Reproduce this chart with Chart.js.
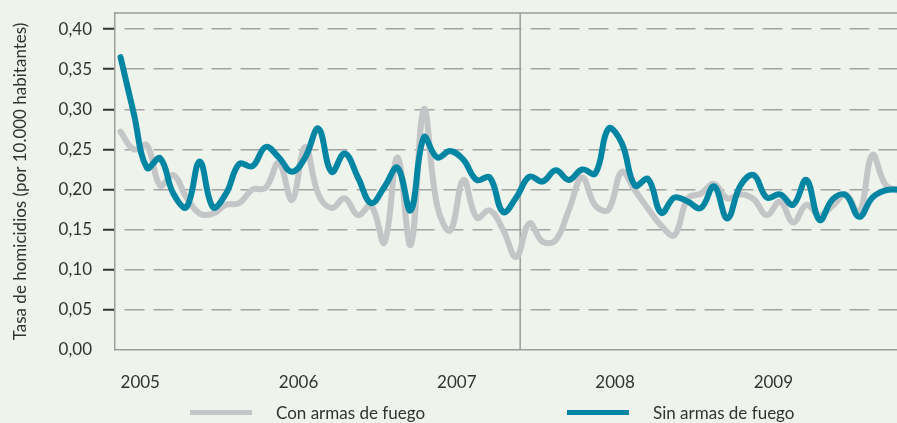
<!DOCTYPE html>
<html lang="es">
<head>
<meta charset="utf-8">
<title>Tasa de homicidios 2005-2009</title>
<script src="https://cdn.jsdelivr.net/npm/chart.js@4/dist/chart.umd.min.js"></script>
<style>
  html, body { margin: 0; padding: 0; background: #eef3eb; }
  #wrap { position: relative; width: 897px; height: 423px; }
  #legend { position: absolute; left: 0; top: 402px; width: 897px; height: 20px;
            font: 17px Lato, sans-serif; color: #333; }
  #legend .item { position: absolute; top: 0; height: 20px; display: flex; align-items: center; }
  #legend .swatch { width: 62px; height: 5px; margin-right: 24px; }
</style>
</head>
<body>
<div id="wrap">
  <canvas id="tasa" width="897" height="423"></canvas>
  <div id="legend"></div>
</div>
<script>
// monthly rate per 10.000 inhabitants, Jan 2005 .. Dec 2009
const years = ['2005', '2006', '2007', '2008', '2009'];
const yTicks = [0, 0.05, 0.10, 0.15, 0.20, 0.25, 0.30, 0.35, 0.40];
const seriesNames = ['Con armas de fuego', 'Sin armas de fuego'];
const axisTitle = 'Tasa de homicidios (por 10.000 habitantes)';

const conArmas = [
  0.272, 0.250, 0.255, 0.205, 0.218, 0.190, 0.170, 0.170, 0.181, 0.183, 0.200, 0.202,
  0.233, 0.187, 0.253, 0.194, 0.177, 0.189, 0.168, 0.180, 0.134, 0.240, 0.131, 0.300,
  0.180, 0.149, 0.212, 0.165, 0.174, 0.150, 0.116, 0.158, 0.135, 0.137, 0.175, 0.215,
  0.180, 0.175, 0.222, 0.199, 0.176, 0.155, 0.143, 0.189, 0.195, 0.207, 0.189, 0.194,
  0.188, 0.168, 0.185, 0.159, 0.181, 0.168, 0.180, 0.194, 0.170, 0.243, 0.206, 0.198
];
const sinArmas = [
  0.365, 0.295, 0.227, 0.239, 0.195, 0.178, 0.235, 0.178, 0.195, 0.232, 0.229, 0.253,
  0.240, 0.222, 0.240, 0.276, 0.222, 0.245, 0.215, 0.183, 0.203, 0.227, 0.174, 0.265,
  0.240, 0.248, 0.237, 0.212, 0.215, 0.172, 0.190, 0.216, 0.210, 0.224, 0.212, 0.225,
  0.220, 0.276, 0.258, 0.205, 0.213, 0.171, 0.190, 0.185, 0.177, 0.204, 0.164, 0.205,
  0.218, 0.190, 0.194, 0.181, 0.212, 0.162, 0.188, 0.193, 0.166, 0.190, 0.199, 0.200
];
// month index where the reference line is drawn (mid 2007)
const corte = 30.3;

const colors = ['#c4c5c7', '#0085a3'];
const font = { family: 'Lato, sans-serif', size: 17 };
const textColor = '#333';

const toPoints = (serie) => serie.map((v, i) => ({ x: i, y: v }));

// keep the axes from reserving room for half labels at their ends
const noEdgePadding = (s) => {
  s.paddingTop = 0;
  s.paddingBottom = 0;
  s.paddingLeft = 0;
  s.paddingRight = 0;
};

// top frame line and the vertical cut line
const marco = {
  id: 'marco',
  beforeDatasetsDraw(chart) {
    const { ctx, chartArea: a } = chart;
    const xc = chart.scales.x.getPixelForValue(corte);
    ctx.save();
    ctx.strokeStyle = '#9d9d9d';
    ctx.lineWidth = 1.5;
    ctx.beginPath();
    ctx.moveTo(a.left, a.top);
    ctx.lineTo(a.right, a.top);
    ctx.moveTo(xc, a.top);
    ctx.lineTo(xc, a.bottom);
    ctx.stroke();
    ctx.restore();
  }
};

const chart = new Chart(document.getElementById('tasa'), {
  type: 'line',
  data: {
    datasets: [{
      label: seriesNames[0],
      data: toPoints(conArmas),
      borderColor: colors[0],
      backgroundColor: colors[0],
      order: 2
    }, {
      label: seriesNames[1],
      data: toPoints(sinArmas),
      borderColor: colors[1],
      backgroundColor: colors[1],
      order: 1
    }]
  },
  options: {
    responsive: false,
    animation: false,
    layout: { padding: { top: 13, left: 0, right: 0, bottom: 0 } },
    elements: {
      line: { borderWidth: 6, tension: 0.4, borderCapStyle: 'round', borderJoinStyle: 'round' },
      point: { radius: 0, hoverRadius: 0 }
    },
    plugins: {
      legend: { display: false },
      tooltip: { enabled: false }
    },
    scales: {
      x: {
        type: 'linear',
        min: -0.42,
        max: 58.87,
        afterFit: (s) => { s.height = 73; noEdgePadding(s); },
        afterBuildTicks: (s) => { s.ticks = years.map((_, i) => ({ value: i * 12 })); },
        ticks: {
          align: 'start',
          padding: 14,
          maxRotation: 0,
          autoSkip: false,
          font,
          color: textColor,
          callback: (v) => years[Math.round(v / 12)]
        },
        grid: { display: false },
        border: { display: true, color: '#9d9d9d', width: 1.5 }
      },
      y: {
        min: 0,
        max: 0.42,
        afterFit: (s) => { s.width = 115; noEdgePadding(s); },
        afterBuildTicks: (s) => { s.ticks = yTicks.map((v) => ({ value: v })); },
        ticks: {
          padding: 11,
          font,
          color: textColor,
          callback: (v) => v.toFixed(2).replace('.', ',')
        },
        grid: {
          color: (c) => (c.tick && c.tick.value === 0 ? 'rgba(0,0,0,0)' : '#a3a3a3'),
          lineWidth: 1.5,
          tickLength: 12,
          tickWidth: 2,
          tickColor: (c) => (c.tick && c.tick.value === 0 ? 'rgba(0,0,0,0)' : '#333')
        },
        border: { display: true, color: '#9d9d9d', width: 1.5, dash: [20, 9], dashOffset: 20 },
        title: {
          display: true,
          text: axisTitle,
          font,
          color: textColor,
          padding: { top: 10, bottom: 0 }
        }
      }
    }
  },
  plugins: [marco]
});

// legend below the axis
const legendLeft = [190, 567];
const legend = document.getElementById('legend');
chart.data.datasets.forEach((ds, i) => {
  const item = document.createElement('div');
  item.className = 'item';
  item.style.left = legendLeft[i] + 'px';
  const sw = document.createElement('span');
  sw.className = 'swatch';
  sw.style.background = ds.borderColor;
  const txt = document.createElement('span');
  txt.textContent = ds.label;
  item.appendChild(sw);
  item.appendChild(txt);
  legend.appendChild(item);
});
</script>
</body>
</html>
